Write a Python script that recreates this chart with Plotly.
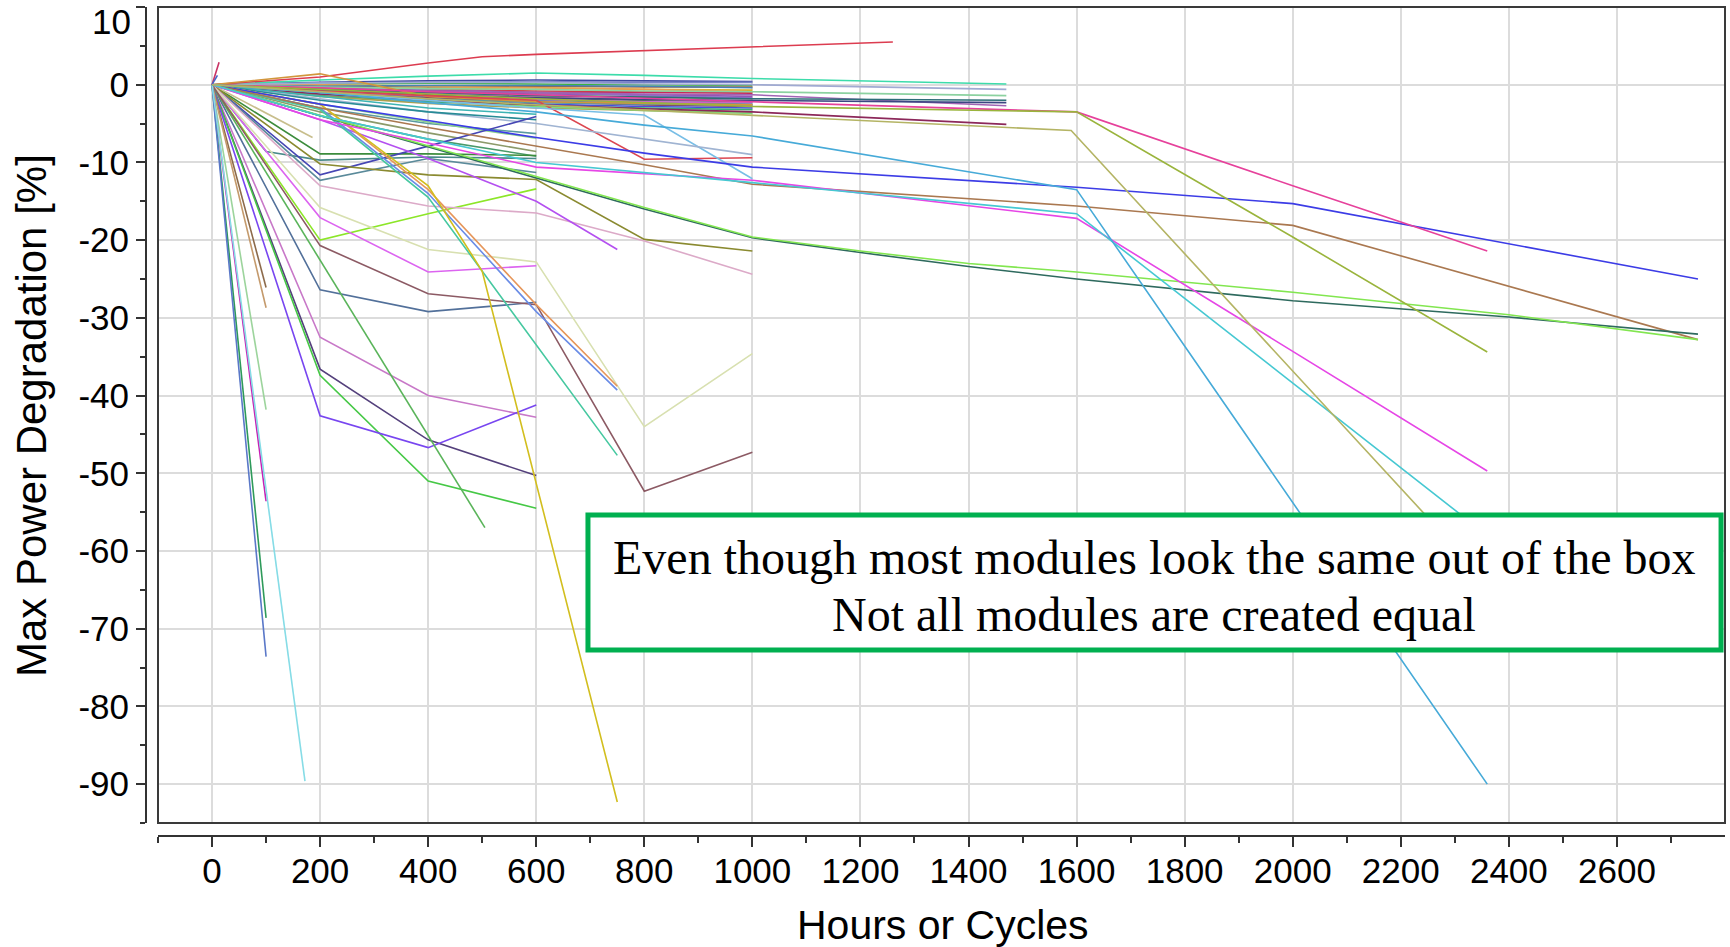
import plotly.graph_objects as go

# ---------------- axis ticks ----------------
x_ticks = [0, 200, 400, 600, 800, 1000, 1200, 1400, 1600, 1800, 2000, 2200, 2400, 2600]
x_tick_labels = ["0", "200", "400", "600", "800", "1000", "1200", "1400", "1600", "1800",
                 "2000", "2200", "2400", "2600"]
x_minor = [-100, 100, 300, 500, 700, 900, 1100, 1300, 1500, 1700, 1900, 2100, 2300, 2500, 2700]
y_ticks = [-90, -80, -70, -60, -50, -40, -30, -20, -10, 0, 10]
y_tick_labels = ["-90", "-80", "-70", "-60", "-50", "-40", "-30", "-20", "-10", "0", ""]
y_minor = [-95, -85, -75, -65, -55, -45, -35, -25, -15, -5, 5]

# ---------------- shared hour grids ----------------
hrs_100 = [0, 100]
hrs_600 = [0, 200, 400, 600]
hrs_750 = [0, 200, 400, 600, 750]
hrs_1000 = [0, 200, 400, 600, 800, 1000]
hrs_1470 = [0, 200, 400, 600, 800, 1000, 1470]
hrs_long_a = [0, 200, 400, 600, 800, 1000, 1600, 2000, 2750]
hrs_long_b = [0, 200, 400, 600, 800, 1000, 1200, 1400, 1600, 2000, 2400, 2750]
hrs_2360_a = [0, 200, 400, 600, 1000, 1600, 2360]
hrs_2360_b = [0, 200, 400, 600, 1000, 1600, 2000, 2360]

# ---------------- steep early failures ----------------
deg_blue_100 = [0, -73.6]
deg_green_100 = [0, -68.6]
deg_magenta_100 = [0, -53.6]
deg_lgreen_100 = [0, -41.8]
deg_brown_100a = [0, -26.1]
deg_brown_100b = [0, -28.7]
cyan_172_x = [0, 172]
cyan_172_y = [0, -89.6]
medgreen_505_x = [0, 505]
medgreen_505_y = [0, -57.0]
khaki_186_x = [0, 186]
khaki_186_y = [0, -6.8]
spike_red_x = [0, 13]
spike_red_y = [0, 2.9]
spike_blue_x = [0, 10]
spike_blue_y = [0, 1.2]

# ---------------- lines ending at 600 h ----------------
dkgreen_flat = [0, -8.9, -8.9, -9.1]
blue_up = [0, -11.6, -7.9, -4.1]
steel_teal = [0, -12.3, -9.5, -11.3]
chartreuse = [0, -20.0, -16.6, -13.4]
orchid_bright = [0, -17.1, -24.1, -23.3]
slate_steel = [0, -26.4, -29.2, -28.0]
orchid_mauve = [0, -32.5, -40.0, -42.8]
indigo = [0, -36.6, -45.7, -50.3]
green2 = [0, -37.4, -51.0, -54.5]
blueviolet = [0, -42.6, -46.7, -41.2]
mid_teal = [0, -1.5, -3.0, -3.8]
mid_dkcyan = [0, -2.0, -3.5, -4.5]
mid_cadet = [0, -3.0, -5.0, -6.3]
mid_lgreen = [0, -2.5, -4.8, -6.9]
mid_seagreen = [0, -4.0, -7.0, -9.2]
mid_olivegrey = [0, -3.5, -6.2, -8.6]
dkteal_kink_x = [0, 100, 200, 400, 600]
dkteal_kink_y = [0, -8.6, -9.7, -9.3, -9.5]

# ---------------- lines ending at 750 h ----------------
violet_750 = [0, -4.5, -9.5, -15.0, -21.2]
orange_750 = [0, -2.5, -13.5, -28.3, -38.8]
cornflower_750 = [0, -3.0, -14.0, -29.2, -39.3]
turq_750 = [0, -3.2, -14.5, -33.5, -47.7]
gold_x = [0, 200, 400, 500, 750]
gold_y = [0, -2.5, -13.0, -24.0, -92.3]

# ---------------- lines ending at 1000 h ----------------
olive_drop = [0, -10.2, -11.6, -12.2, -19.9, -21.4]
pink_mauve = [0, -13.0, -15.6, -16.5, -20.1, -24.4]
beige = [0, -15.8, -21.2, -22.8, -44.0, -34.6]
rosybrown = [0, -20.7, -26.9, -28.3, -52.3, -47.3]
red_drop = [0, -0.8, -1.4, -2.0, -9.6, -9.4]
sky_drop = [0, -1.0, -2.0, -3.0, -3.9, -12.1]
lsteel_x = [0, 200, 400, 600, 1000]
lsteel_y = [0, -1.8, -3.5, -5.0, -9.0]
orange_hump_x = [0, 200, 400, 600, 1000]
orange_hump_y = [0, 1.4, -1.5, -2.2, -2.6]
b_navy = [0, 0.3, 0.5, 0.6, 0.5, 0.4]
b_slate = [0, 0.2, 0.3, 0.4, 0.3, 0.3]
b_green = [0, 0.1, 0.2, 0.1, 0.0, -0.1]
b_brown = [0, -0.2, -0.3, -0.2, -0.3, -0.3]
b_red = [0, -0.4, -0.6, -0.8, -0.9, -1.0]
b_purple = [0, -0.5, -0.9, -1.2, -1.3, -1.5]
b_olive = [0, -0.6, -1.0, -1.4, -1.6, -1.8]
b_dkgreen = [0, -0.8, -1.3, -1.8, -2.0, -2.2]
b_teal = [0, -0.9, -1.5, -2.0, -2.3, -2.5]
b_maroon = [0, -1.0, -1.7, -2.2, -2.6, -2.8]
b_pink = [0, -0.7, -1.1, -1.6, -1.9, -2.1]
b_blue = [0, -1.2, -1.9, -2.5, -2.8, -3.0]
b_gold = [0, -0.3, -0.5, -0.4, -0.6, -0.7]
b_seagreen = [0, -1.4, -2.2, -2.7, -3.0, -3.2]
b_violet = [0, -0.6, -1.2, -1.7, -2.4, -2.7]
b_orange = [0, 0.0, -0.2, -0.4, -0.6, -0.9]
b_mpurple = [0, -0.4, -0.7, -1.0, -1.4, -1.7]
b_cadet = [0, -1.1, -1.8, -2.3, -2.5, -2.6]
b_dkhaki = [0, -1.5, -2.4, -3.0, -3.3, -3.5]
b_lgreen = [0, -1.0, -2.0, -2.8, -3.3, -3.7]
b_crimson = [0, -0.5, -0.8, -1.0, -1.0, -1.1]
b_steel = [0, -0.2, -0.1, -0.1, -0.2, -0.4]
b_orchid = [0, -0.9, -1.4, -1.9, -2.2, -2.3]

# ---------------- lines ending at 1260 / 1470 h ----------------
red_rise_x = [0, 200, 400, 500, 600, 800, 1000, 1260]
red_rise_y = [0, 1.0, 2.8, 3.6, 3.9, 4.4, 4.9, 5.5]
c_aqua = [0, 0.6, 1.1, 1.5, 1.2, 0.8, 0.1]
c_lavender = [0, 0.2, 0.3, 0.3, 0.1, 0.0, -0.6]
c_lgreen = [0, -0.3, -0.5, -0.6, -0.8, -0.9, -1.4]
c_purple = [0, -0.5, -0.8, -1.0, -1.2, -1.3, -2.7]
c_dkteal = [0, -0.6, -1.0, -1.4, -1.6, -1.8, -2.0]
c_dkslate = [0, -0.8, -1.3, -1.7, -1.9, -2.0, -2.3]
c_maroon = [0, -1.2, -2.0, -2.6, -3.1, -3.5, -5.1]

# ---------------- long-running lines ----------------
blue_long = [0, -2.5, -4.6, -6.8, -8.8, -10.6, -13.2, -15.3, -25.0]
brown_long = [0, -3.0, -5.5, -7.9, -10.3, -12.8, -15.6, -18.1, -32.8]
slate_long = [0, -4.0, -8.0, -12.0, -16.0, -19.7, -21.6, -23.4, -25.0, -27.8, -29.9, -32.1]
lawn_long = [0, -3.9, -7.8, -11.8, -15.8, -19.6, -21.4, -23.0, -24.1, -26.7, -29.6, -32.8]
magenta_long = [0, -4.5, -7.5, -10.6, -12.3, -17.2, -49.7]
turq_long = [0, -4.0, -7.0, -10.0, -12.6, -16.6, -58.0]
pink_long = [0, -0.4, -0.9, -1.3, -2.2, -3.5, -13.0, -21.4]
yolive_long = [0, -0.6, -1.2, -1.8, -2.8, -3.5, -19.6, -34.4]
cerulean_x = [0, 200, 400, 600, 800, 1000, 1600, 2360]
cerulean_y = [0, -1.0, -2.3, -3.5, -5.2, -6.6, -13.5, -90.0]
khaki_long_x = [0, 200, 400, 600, 1000, 1590, 2360]
khaki_long_y = [0, -0.9, -1.8, -2.6, -3.9, -5.9, -64.0]

note_line1 = "Even though most modules look the same out of the box"
note_line2 = "Not all modules are created equal"
x_title = "Hours or Cycles"
y_title = "Max Power Degradation [%]"

# ---------------- build ----------------
series = [
    # bundle
    (hrs_1000, b_navy, "#3c46a0"), (hrs_1000, b_slate, "#7882c8"), (hrs_1000, b_green, "#3cb43c"),
    (hrs_1000, b_brown, "#a0643c"), (hrs_1000, b_red, "#d23c46"), (hrs_1000, b_purple, "#9650b4"),
    (hrs_1000, b_olive, "#9a9a32"), (hrs_1000, b_dkgreen, "#327846"), (hrs_1000, b_teal, "#32a0a0"),
    (hrs_1000, b_maroon, "#8c3c5a"), (hrs_1000, b_pink, "#e678b4"), (hrs_1000, b_blue, "#4650dc"),
    (hrs_1000, b_gold, "#d2b432"), (hrs_1000, b_seagreen, "#3caa78"), (hrs_1000, b_violet, "#b464dc"),
    (hrs_1000, b_orange, "#e6a050"), (hrs_1000, b_mpurple, "#8c6ec8"), (hrs_1000, b_cadet, "#5a96a0"),
    (hrs_1000, b_dkhaki, "#aaa050"), (hrs_1000, b_lgreen, "#78dc78"), (hrs_1000, b_crimson, "#c8285a"),
    (hrs_1000, b_steel, "#4682b4"), (hrs_1000, b_orchid, "#c864c8"),
    (hrs_1470, c_aqua, "#3cdcaa"), (hrs_1470, c_lavender, "#a0aad2"), (hrs_1470, c_lgreen, "#8cd2a0"),
    (hrs_1470, c_purple, "#a064b4"), (hrs_1470, c_dkteal, "#2d6e78"), (hrs_1470, c_dkslate, "#3c4682"),
    (hrs_1470, c_maroon, "#8c285a"),
    (red_rise_x, red_rise_y, "#dc3c50"), (orange_hump_x, orange_hump_y, "#d2963c"),
    (hrs_1000, red_drop, "#dc4650"), (hrs_1000, sky_drop, "#78bee6"), (lsteel_x, lsteel_y, "#a0b4d2"),
    # mid lines ending at 600
    (hrs_600, mid_teal, "#3cb4b4"), (hrs_600, mid_dkcyan, "#288c96"), (hrs_600, mid_cadet, "#5a9aa0"),
    (hrs_600, mid_lgreen, "#8cd28c"), (hrs_600, mid_seagreen, "#4a9a6a"), (hrs_600, mid_olivegrey, "#8c9a6a"),
    (hrs_600, dkgreen_flat, "#3c8c3c"), (dkteal_kink_x, dkteal_kink_y, "#4a8a8a"),
    (hrs_600, blue_up, "#4646b4"), (hrs_600, steel_teal, "#5a8a9a"), (hrs_600, chartreuse, "#8ce628"),
    (hrs_600, orchid_bright, "#dc64f0"), (hrs_600, slate_steel, "#52709a"), (hrs_600, orchid_mauve, "#c878c8"),
    (hrs_600, indigo, "#54407c"), (hrs_600, green2, "#46c846"), (hrs_600, blueviolet, "#7846f0"),
    (khaki_186_x, khaki_186_y, "#c8be8c"), (medgreen_505_x, medgreen_505_y, "#5ab45a"),
    # 1000 h
    (hrs_1000, olive_drop, "#8a8a30"), (hrs_1000, pink_mauve, "#dcaac8"), (hrs_1000, beige, "#d8e0b0"),
    (hrs_1000, rosybrown, "#8c5a64"),
    # 750 h
    (hrs_750, violet_750, "#b450f0"), (hrs_750, orange_750, "#e6965a"), (hrs_750, cornflower_750, "#6a8ce6"),
    (hrs_750, turq_750, "#46c8a0"), (gold_x, gold_y, "#d2be1e"),
    # steep 100 h
    (hrs_100, deg_brown_100a, "#8c6a4a"), (hrs_100, deg_brown_100b, "#c49a6c"),
    (hrs_100, deg_lgreen_100, "#9cd49c"), (hrs_100, deg_magenta_100, "#c81eb4"),
    (hrs_100, deg_green_100, "#2e9a5a"), (hrs_100, deg_blue_100, "#5a78c8"),
    (cyan_172_x, cyan_172_y, "#86dce6"),
    (spike_red_x, spike_red_y, "#c83264"), (spike_blue_x, spike_blue_y, "#4664c8"),
    # long
    (hrs_long_a, blue_long, "#3c3ce6"), (hrs_long_a, brown_long, "#aa7850"),
    (hrs_long_b, slate_long, "#2e6a5e"), (hrs_long_b, lawn_long, "#82e650"),
    (hrs_2360_a, magenta_long, "#e646e6"), (hrs_2360_a, turq_long, "#46c8d2"),
    (hrs_2360_b, pink_long, "#e6419b"), (hrs_2360_b, yolive_long, "#9ab43c"),
    (cerulean_x, cerulean_y, "#46aad8"), (khaki_long_x, khaki_long_y, "#b4b464"),
]

fig = go.Figure()
for xs, ys, col in series:
    fig.add_trace(go.Scatter(x=xs, y=ys, mode="lines", line=dict(color=col, width=1.6),
                             hoverinfo="skip", showlegend=False))

tick_font = dict(family="Liberation Sans, Arial, sans-serif", size=35, color="black")
title_font = dict(family="Liberation Sans, Arial, sans-serif", size=41, color="black")
ytitle_font = dict(family="Liberation Sans, Arial, sans-serif", size=42, color="black")
axis_col = "#333333"

fig.update_layout(
    width=1730, height=947,
    margin=dict(l=146, r=5, t=7, b=111, autoexpand=False),
    paper_bgcolor="white", plot_bgcolor="white", showlegend=False,
    xaxis=dict(range=[-100, 2800], domain=[0.0076, 1], anchor="free", position=0,
               tickmode="array", tickvals=x_ticks, ticktext=x_tick_labels,
               ticks="outside", ticklen=10, tickwidth=1.5, tickcolor=axis_col,
               ticklabelstandoff=-6,
               showline=True, linecolor=axis_col, linewidth=2,
               showgrid=True, gridcolor="#dcdcdc", gridwidth=1.5, zeroline=False,
               tickfont=tick_font, automargin=False,
               minor=dict(tickmode="array", tickvals=x_minor, ticks="outside", ticklen=6,
                          tickwidth=1.5, tickcolor=axis_col, showgrid=False)),
    yaxis=dict(range=[-95, 10], domain=[0.0157, 1], anchor="free", position=0,
               tickmode="array", tickvals=y_ticks, ticktext=y_tick_labels,
               ticks="outside", ticklen=9, tickwidth=1.5, tickcolor=axis_col,
               showline=True, linecolor=axis_col, linewidth=2,
               showgrid=True, gridcolor="#dcdcdc", gridwidth=1.5, zeroline=False,
               tickfont=tick_font, automargin=False,
               minor=dict(tickmode="array", tickvals=y_minor, ticks="outside", ticklen=5,
                          tickwidth=1.5, tickcolor=axis_col, showgrid=False)),
)

# plot frame
fig.add_shape(type="rect", xref="x domain", yref="y domain", x0=0, x1=1, y0=0, y1=1,
              line=dict(color="#3a3a3a", width=2), fillcolor="rgba(0,0,0,0)", layer="above")
# note box
fig.add_shape(type="rect", xref="paper", yref="paper", x0=0.2799, x1=0.9975, y0=0.2244, y1=0.3872,
              line=dict(color="#00b050", width=5), fillcolor="white", layer="above")

serif = dict(family="Liberation Serif, Times New Roman, serif", size=48, color="black")
fig.add_annotation(xref="paper", yref="paper", x=0.6384, y=0.3365, text=note_line1, showarrow=False,
                   font=serif, xanchor="center", yanchor="middle")
fig.add_annotation(xref="paper", yref="paper", x=0.6384, y=0.2672, text=note_line2, showarrow=False,
                   font=serif, xanchor="center", yanchor="middle")
# axis titles
fig.add_annotation(xref="paper", yref="paper", x=0.5048, y=-0.1074, text=x_title, showarrow=False,
                   font=title_font, xanchor="center", yanchor="middle")
fig.add_annotation(xref="paper", yref="paper", x=-0.0728, y=0.5066, text=y_title, showarrow=False,
                   font=ytitle_font, textangle=-90, xanchor="center", yanchor="middle")
# top tick label (drawn slightly inside like the original)
fig.add_annotation(xref="paper", yref="paper", x=-0.0082, y=0.982, text="10", showarrow=False,
                   font=tick_font, xanchor="right", yanchor="middle")

fig.write_html("out.html", config={"displayModeBar": False},
               post_script="document.body.style.margin='0px';document.body.style.padding='0px';")
